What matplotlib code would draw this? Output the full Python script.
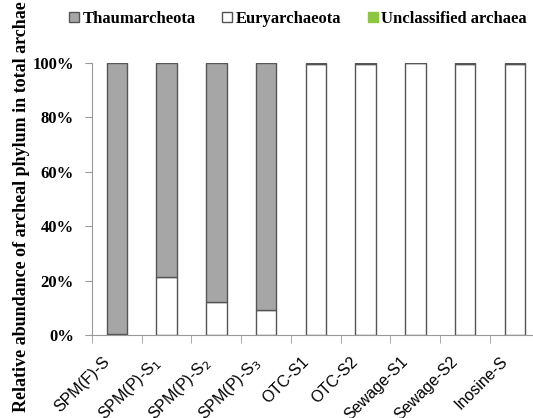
import numpy as np
import matplotlib
matplotlib.use('Agg')
import matplotlib.pyplot as plt
import matplotlib.transforms as mtransforms
from matplotlib.patches import Patch

# sample names and phylum fractions (%)
samples = ['SPM(F)-S', 'SPM(P)-S$_1$', 'SPM(P)-S$_2$', 'SPM(P)-S$_3$',
           'OTC-S1', 'OTC-S2', 'Sewage-S1', 'Sewage-S2', 'Inosine-S']
eury = [0.3, 21.4, 12.1, 9.2, 99.6, 99.6, 100.0, 99.6, 99.6]
thaum = [99.7, 78.6, 87.9, 90.8, 0.4, 0.4, 0.0, 0.4, 0.4]
unclass = [0, 0, 0, 0, 0, 0, 0, 0, 0]
yticks = [0, 20, 40, 60, 80, 100]

fig = plt.figure(figsize=(5.33, 4.18), dpi=100)
ax = fig.add_axes([0.1726, 0.1986, 0.84, 0.6507])

x = np.arange(len(samples))
w = 0.41
ax.bar(x, eury, w, color='white', edgecolor='#555555', linewidth=1.0)
ax.bar(x, thaum, w, bottom=eury, color='#a6a6a6', edgecolor='#555555', linewidth=1.0)
b2 = np.array(eury) + np.array(thaum)
ax.bar(x, unclass, w, bottom=b2, color='#8dc63f', edgecolor='#555555', linewidth=0)

ax.set_xlim(-0.5, len(samples) - 0.5)
ax.set_ylim(0, 100)
ax.set_yticks(yticks)
ax.set_yticklabels(['%d%%' % v for v in yticks], fontfamily='Liberation Serif',
                   fontweight='bold', fontsize=12)
ax.set_xticks(x)
ax.set_xticklabels(samples, rotation=45, ha='right', rotation_mode='anchor',
                   fontfamily='Liberation Sans', fontsize=11.5)
ax.tick_params(axis='x', length=0, pad=10)
# nudge labels left/down like the original
off = mtransforms.ScaledTranslation(-15 / 100, -5 / 100, fig.dpi_scale_trans)
for lab in ax.get_xticklabels():
    lab.set_transform(lab.get_transform() + off)
ax.set_xticks(np.arange(len(samples) + 1) - 0.5, minor=True)
ax.tick_params(axis='x', which='minor', length=6, color='#999999', direction='out')
ax.tick_params(axis='y', length=5, color='#999999', pad=8)

for s in ['top', 'right']:
    ax.spines[s].set_visible(False)
for s in ['left', 'bottom']:
    ax.spines[s].set_color('#999999')

fig.text(0.04, 0.505, 'Relative abundance of archeal phylum in total archae',
         rotation=90, ha='center', va='center',
         fontfamily='Liberation Serif', fontweight='bold', fontsize=13)

handles = [Patch(facecolor='#a6a6a6', edgecolor='#555555', label='Thaumarcheota'),
           Patch(facecolor='white', edgecolor='#555555', label='Euryarchaeota'),
           Patch(facecolor='#8dc63f', edgecolor='#8dc63f', label='Unclassified archaea')]
fig.legend(handles=handles, loc='center left', bbox_to_anchor=(0.108, 0.955), ncol=3,
           frameon=False, handlelength=0.6, handleheight=0.6, handletextpad=0.2,
           columnspacing=1.6, borderpad=0.2,
           prop={'family': 'Liberation Serif', 'weight': 'bold', 'size': 12})

fig.savefig('out.png', dpi=100)
